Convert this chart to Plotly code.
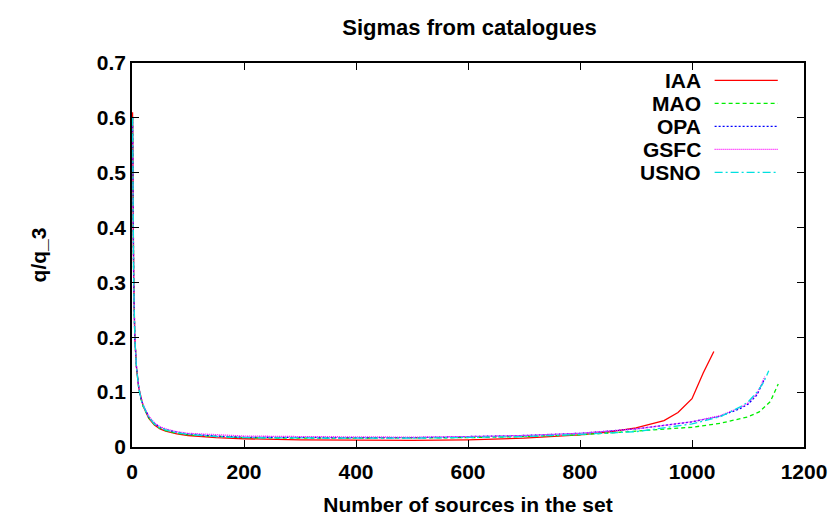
import plotly.graph_objects as go

# ---- data ----
iaa_x = [1, 2, 3, 5, 8, 12, 16, 20, 30, 40, 50, 60, 80, 100, 150, 200, 300, 400, 500, 600, 700, 800, 850, 900, 950, 975, 1000, 1020, 1039]
iaa_y = [0.61, 0.40, 0.31, 0.20, 0.145, 0.108, 0.088, 0.074, 0.052, 0.040, 0.033, 0.029, 0.024, 0.021, 0.017, 0.015, 0.013, 0.012, 0.012, 0.013, 0.016, 0.022, 0.027, 0.035, 0.048, 0.063, 0.088, 0.135, 0.174]

mao_x = [1, 2, 3, 5, 8, 12, 16, 20, 30, 40, 50, 60, 80, 100, 150, 200, 300, 400, 500, 600, 700, 800, 900, 1000, 1050, 1100, 1120, 1140, 1154]
mao_y = [0.60, 0.39, 0.30, 0.20, 0.145, 0.107, 0.087, 0.074, 0.053, 0.041, 0.034, 0.030, 0.025, 0.022, 0.019, 0.017, 0.016, 0.016, 0.016, 0.017, 0.019, 0.022, 0.029, 0.036, 0.043, 0.055, 0.064, 0.083, 0.115]

opa_x = [1, 2, 3, 5, 8, 12, 16, 20, 30, 40, 50, 60, 80, 100, 150, 200, 300, 400, 500, 600, 700, 800, 900, 1000, 1050, 1086, 1100, 1116, 1130]
opa_y = [0.60, 0.39, 0.30, 0.20, 0.146, 0.109, 0.089, 0.076, 0.055, 0.043, 0.036, 0.032, 0.027, 0.024, 0.020, 0.018, 0.017, 0.017, 0.017, 0.019, 0.021, 0.025, 0.033, 0.046, 0.056, 0.070, 0.078, 0.095, 0.125]

gsfc_x = [1, 2, 3, 5, 8, 12, 16, 20, 30, 40, 50, 60, 80, 100, 150, 200, 300, 400, 500, 600, 700, 800, 900, 1000, 1050, 1086, 1100, 1116, 1130]
gsfc_y = [0.60, 0.39, 0.30, 0.20, 0.147, 0.110, 0.090, 0.077, 0.056, 0.044, 0.037, 0.033, 0.028, 0.025, 0.022, 0.020, 0.019, 0.018, 0.018, 0.019, 0.021, 0.025, 0.033, 0.046, 0.057, 0.072, 0.080, 0.097, 0.128]

usno_x = [1, 2, 3, 5, 8, 12, 16, 20, 30, 40, 50, 60, 80, 100, 150, 200, 300, 400, 500, 600, 700, 800, 900, 1000, 1050, 1086, 1100, 1116, 1128, 1137]
usno_y = [0.60, 0.39, 0.30, 0.20, 0.145, 0.108, 0.088, 0.075, 0.054, 0.042, 0.035, 0.031, 0.026, 0.023, 0.019, 0.017, 0.016, 0.016, 0.016, 0.017, 0.019, 0.023, 0.028, 0.042, 0.055, 0.073, 0.082, 0.100, 0.118, 0.139]

names = ["IAA", "MAO", "OPA", "GSFC", "USNO"]
colors = ["#ff0000", "#00ee00", "#0000ff", "#ff00ff", "#00e0e0"]
dashes = ["solid", "4px,3px", "2px,2px", "1px,1px", "8px,3px,2px,3px"]

x_ticks = [0, 200, 400, 600, 800, 1000, 1200]
y_ticks = [0, 0.1, 0.2, 0.3, 0.4, 0.5, 0.6, 0.7]
y_labels = ["0", "0.1", "0.2", "0.3", "0.4", "0.5", "0.6", "0.7"]

series = [(iaa_x, iaa_y), (mao_x, mao_y), (opa_x, opa_y), (gsfc_x, gsfc_y), (usno_x, usno_y)]

FONT = "Liberation Sans, Arial, sans-serif"

fig = go.Figure()
for (xs, ys), n, c, d in zip(series, names, colors, dashes):
    fig.add_trace(go.Scatter(x=xs, y=ys, mode="lines", name=n,
                             line=dict(color=c, width=1.3, dash=d),
                             showlegend=False))

# custom legend: text on the left, line sample on the right
legend_y = [0.955, 0.895, 0.835, 0.775, 0.715]
for n, c, d, ly in zip(names, colors, dashes, legend_y):
    fig.add_annotation(xref="paper", yref="paper", x=0.849, y=ly, text=n,
                       showarrow=False, xanchor="right", yanchor="middle",
                       font=dict(family=FONT, size=21, color="black", weight="bold"))
    fig.add_shape(type="line", xref="paper", yref="paper", x0=0.867, x1=0.961,
                  y0=ly, y1=ly, line=dict(color=c, width=1.3, dash=d))

fig.update_layout(
    width=828, height=522,
    margin=dict(l=132, r=24, t=63, b=75, autoexpand=False),
    paper_bgcolor="white", plot_bgcolor="white",
    font=dict(family=FONT, size=21, color="black", weight="bold"),
    title=dict(text="Sigmas from catalogues", x=0.567, xanchor="center",
               y=0.947, yanchor="middle",
               font=dict(family=FONT, size=22, color="black", weight="bold")),
    showlegend=False,
)
fig.update_xaxes(range=[0, 1200], tickvals=x_ticks, ticktext=[str(v) for v in x_ticks],
                 showline=True, linecolor="black", linewidth=1.5, mirror="ticks",
                 ticks="inside", ticklen=7, tickcolor="black", tickwidth=1,
                 showgrid=False, zeroline=False, automargin=False,
                 ticklabelstandoff=5,
                 tickfont=dict(family=FONT, size=21, weight="bold"),
                 title=dict(text="Number of sources in the set", standoff=15,
                            font=dict(family=FONT, size=21, weight="bold")))
fig.update_yaxes(range=[0, 0.7], tickvals=y_ticks, ticktext=y_labels,
                 showline=True, linecolor="black", linewidth=1.5, mirror="ticks",
                 ticks="inside", ticklen=7, tickcolor="black", tickwidth=1,
                 showgrid=False, zeroline=False, automargin=False,
                 tickfont=dict(family=FONT, size=21, weight="bold"),
                 title=dict(text="q/q_3", standoff=44,
                            font=dict(family=FONT, size=21, weight="bold")))

fig.write_html("out.html")
